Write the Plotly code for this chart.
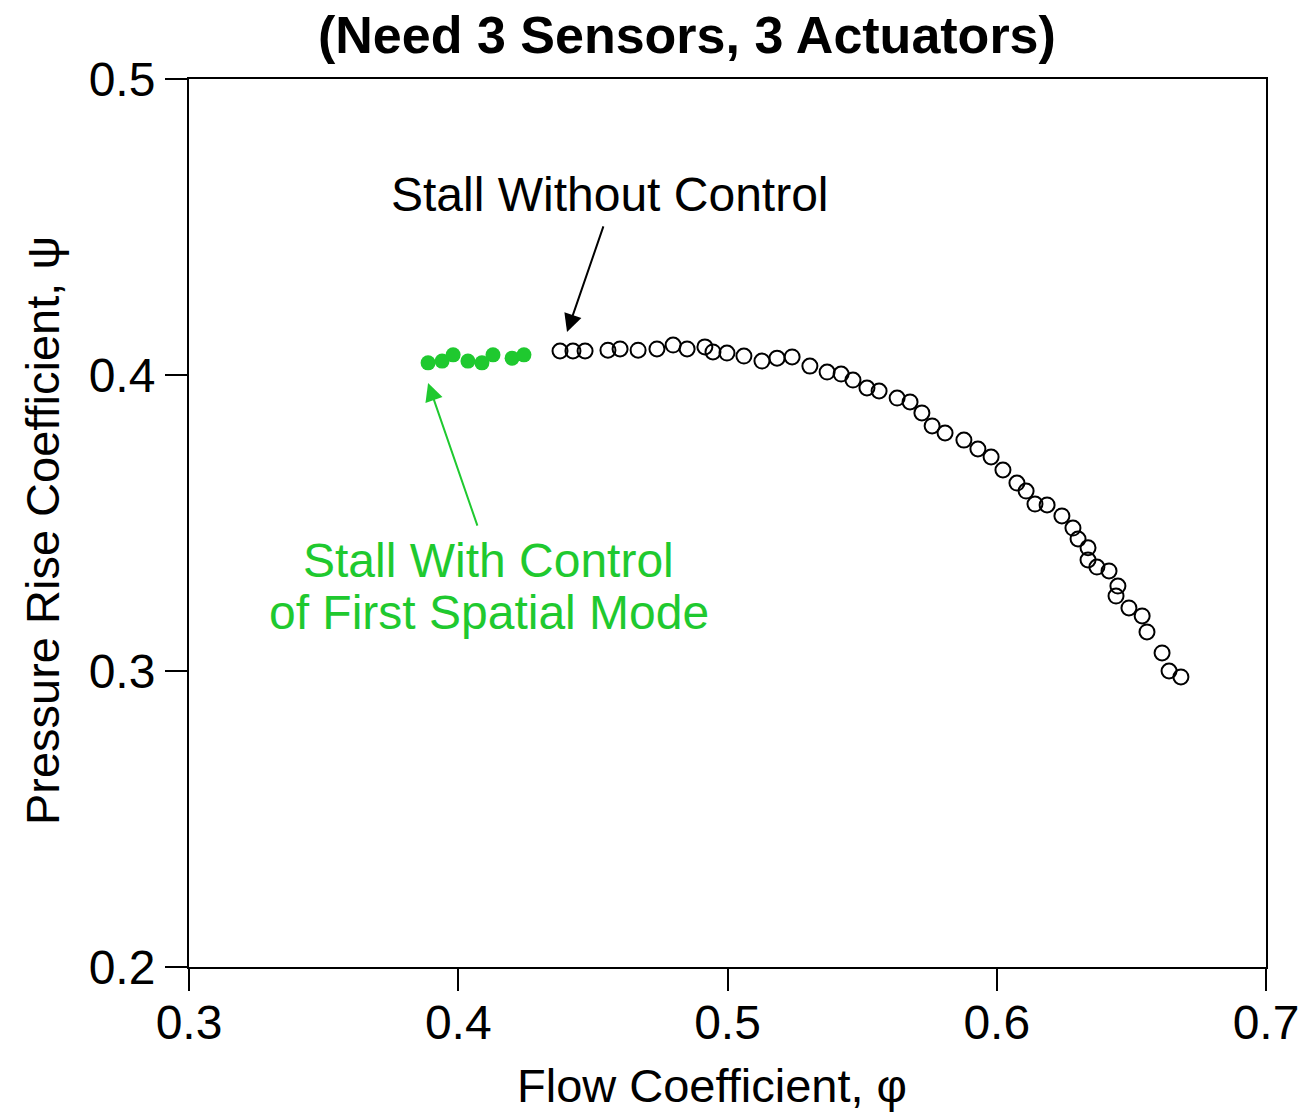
import plotly.graph_objects as go

# Flow coefficient (phi) / pressure rise coefficient (psi)
phi_no_control = [0.4378, 0.4426, 0.4471, 0.4556, 0.4601, 0.4668, 0.4738, 0.4798, 0.4850,
                  0.4916, 0.4946, 0.4998, 0.5061, 0.5128, 0.5184, 0.5240, 0.5306, 0.5370,
                  0.5422, 0.5466, 0.5518, 0.5563, 0.5630, 0.5678, 0.5722, 0.5760, 0.5808,
                  0.5878, 0.5930, 0.5979, 0.6023, 0.6075, 0.6109, 0.6142, 0.6187, 0.6242,
                  0.6283, 0.6302, 0.6339, 0.6339, 0.6372, 0.6417, 0.6450, 0.6443, 0.6491,
                  0.6540, 0.6558, 0.6614, 0.6640, 0.6684]
psi_no_control = [0.4081, 0.4081, 0.4081, 0.4084, 0.4088, 0.4084, 0.4088, 0.4101, 0.4088,
                  0.4095, 0.4078, 0.4074, 0.4064, 0.4047, 0.4057, 0.4061, 0.4030, 0.4010,
                  0.4003, 0.3983, 0.3956, 0.3946, 0.3922, 0.3909, 0.3872, 0.3828, 0.3804,
                  0.3780, 0.3750, 0.3723, 0.3679, 0.3635, 0.3608, 0.3564, 0.3561, 0.3524,
                  0.3483, 0.3446, 0.3416, 0.3375, 0.3351, 0.3338, 0.3287, 0.3253, 0.3213,
                  0.3186, 0.3132, 0.3061, 0.3000, 0.2980]

phi_control = [0.3888, 0.3940, 0.3981, 0.4036, 0.4088, 0.4129, 0.4200, 0.4244]
psi_control = [0.4041, 0.4047, 0.4068, 0.4047, 0.4041, 0.4068, 0.4057, 0.4068]

x_ticks = [0.3, 0.4, 0.5, 0.6, 0.7]
y_ticks = [0.2, 0.3, 0.4, 0.5]

title_text = "(Need 3 Sensors, 3 Actuators)"
x_title = "Flow Coefficient, φ"
y_title = "Pressure Rise Coefficient, ψ"
label_no_control = "Stall Without Control"
label_control_1 = "Stall With Control"
label_control_2 = "of First Spatial Mode"

GREEN = "#1fc92f"
FONT = "Liberation Sans, Arial, Helvetica, sans-serif"

fig = go.Figure()
fig.add_trace(go.Scatter(
    x=phi_no_control, y=psi_no_control, mode="markers",
    marker=dict(symbol="circle-open", size=15, color="black", line=dict(width=2, color="black")),
    showlegend=False))
fig.add_trace(go.Scatter(
    x=phi_control, y=psi_control, mode="markers",
    marker=dict(symbol="circle", size=15, color=GREEN),
    showlegend=False))

axis_common = dict(
    showline=True, linecolor="black", linewidth=2, mirror=True,
    ticks="outside", ticklen=22, tickwidth=2, tickcolor="black",
    showgrid=False, zeroline=False, automargin=False,
    tickfont=dict(family=FONT, size=48, color="black"),
)
fig.update_xaxes(range=[0.3, 0.7], tickvals=x_ticks, ticktext=[f"{v:.1f}" for v in x_ticks],
                 ticklabelstandoff=-10, **axis_common)
fig.update_yaxes(range=[0.2, 0.5], tickvals=y_ticks, ticktext=[f"{v:.1f}" for v in y_ticks], **axis_common)

annotations = [
    dict(text=title_text, xref="paper", yref="paper", x=0.4624, y=1.0495,
         xanchor="center", yanchor="middle", showarrow=False,
         font=dict(family=FONT, size=52, color="black", weight="bold")),
    dict(text=x_title, xref="paper", yref="paper", x=0.4856, y=-0.133,
         xanchor="center", yanchor="middle", showarrow=False,
         font=dict(family=FONT, size=47, color="black")),
    dict(text=y_title, xref="paper", yref="paper", x=-0.1365, y=0.492,
         xanchor="center", yanchor="middle", showarrow=False, textangle=-90,
         font=dict(family=FONT, size=47, color="black")),
    dict(text=label_no_control, xref="x", yref="y", x=0.4564, y=0.4611,
         xanchor="center", yanchor="middle", showarrow=False,
         font=dict(family=FONT, size=48, color="black")),
    dict(text=label_control_1, xref="x", yref="y", x=0.4114, y=0.3372,
         xanchor="center", yanchor="middle", showarrow=False,
         font=dict(family=FONT, size=48, color=GREEN)),
    dict(text=label_control_2, xref="x", yref="y", x=0.4114, y=0.3199,
         xanchor="center", yanchor="middle", showarrow=False,
         font=dict(family=FONT, size=48, color=GREEN)),
    dict(text="", xref="x", yref="y", x=0.4404, y=0.4145,
         axref="x", ayref="y", ax=0.4541, ay=0.4507,
         showarrow=True, arrowhead=2, arrowsize=1.8, arrowwidth=2, arrowcolor="black"),
    dict(text="", xref="x", yref="y", x=0.3888, y=0.3973,
         axref="x", ayref="y", ax=0.4073, ay=0.3486,
         showarrow=True, arrowhead=2, arrowsize=1.8, arrowwidth=2, arrowcolor=GREEN),
]

fig.update_layout(
    width=1308, height=1113,
    margin=dict(l=189, r=42, t=79, b=146, autoexpand=False),
    plot_bgcolor="white", paper_bgcolor="white",
    font=dict(family=FONT, color="black"),
    annotations=annotations,
)

fig.write_html("out.html")
